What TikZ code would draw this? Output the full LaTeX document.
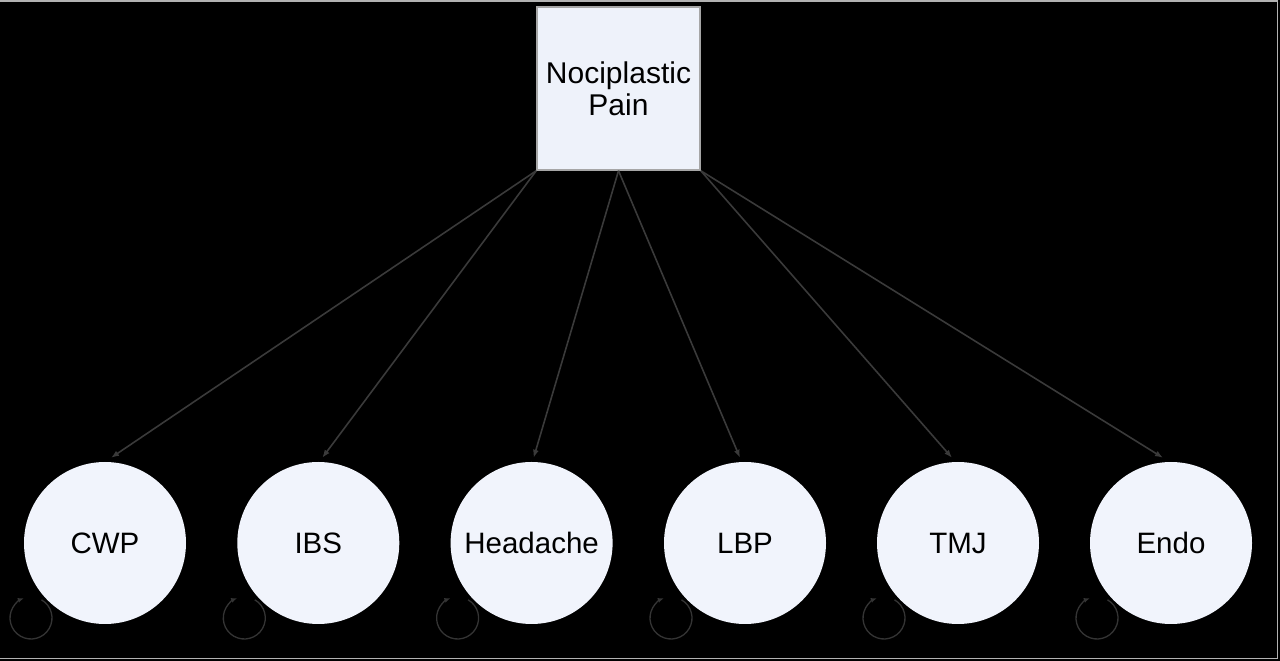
\documentclass[tikz,border=0pt]{standalone}
\usepackage{fontspec}
\setmainfont{Liberation Sans}
\usetikzlibrary{arrows.meta}
\definecolor{boxfill}{HTML}{EEF2FA}
\definecolor{circfill}{HTML}{F1F4FC}
\definecolor{edgecol}{HTML}{3A3A3A}
\definecolor{loopcol}{HTML}{343434}
\tikzset{
  rootbox/.style={draw=gray!70, line width=1.5pt, fill=boxfill, minimum width=163pt, minimum height=163pt, inner sep=0pt, align=center, font=\fontsize{30}{32}\selectfont, text=black},
  leaf/.style={circle, draw=none, fill=circfill, minimum size=162pt, inner sep=0pt, font=\fontsize{29.5}{34}\selectfont, text=black},
  link/.style={draw=edgecol, line width=1.6pt, -{Latex[length=8pt,width=6pt]}},
  selfloop/.style={draw=loopcol, line width=1.3pt, -{Latex[length=6pt,width=5pt]}}
}
\begin{document}
\begin{tikzpicture}[x=1pt,y=1pt]
\fill[black] (0,0) rectangle (1280,661);
\useasboundingbox (0,0) rectangle (1280,661);
\draw[gray!60, line width=1.5pt] (0,660) -- (1277.5,660) -- (1277.5,2.5) -- (0,2.5);
\node[rootbox] (root) at (618.5,572.5) {Nociplastic\\Pain};
\foreach \n/\t/\x in {cwp/CWP/105, ibs/IBS/318.3, head/Headache/531.6, lbp/LBP/745, tmj/TMJ/958, endo/Endo/1171}{
  \node[leaf] (\n) at (\x,118) {\t};
  \coordinate (\n-loop) at ([xshift=-74pt,yshift=-75pt]\n.center);
  \draw[selfloop] ([shift={(60:21pt)}]\n-loop) arc[start angle=60, end angle=-250, radius=21pt];
}
\draw[link] (root.south west) -- ([xshift=6pt,yshift=4pt]cwp.north);
\draw[link] (root.south west) -- ([xshift=4pt,yshift=4pt]ibs.north);
\draw[link] (root.south) -- ([xshift=2pt,yshift=4pt]head.north);
\draw[link] (root.south) -- ([xshift=-5pt,yshift=4pt]lbp.north);
\draw[link] (root.south east) -- ([xshift=-6pt,yshift=4pt]tmj.north);
\draw[link] (root.south east) -- ([xshift=-8pt,yshift=4pt]endo.north);
\end{tikzpicture}
\end{document}
